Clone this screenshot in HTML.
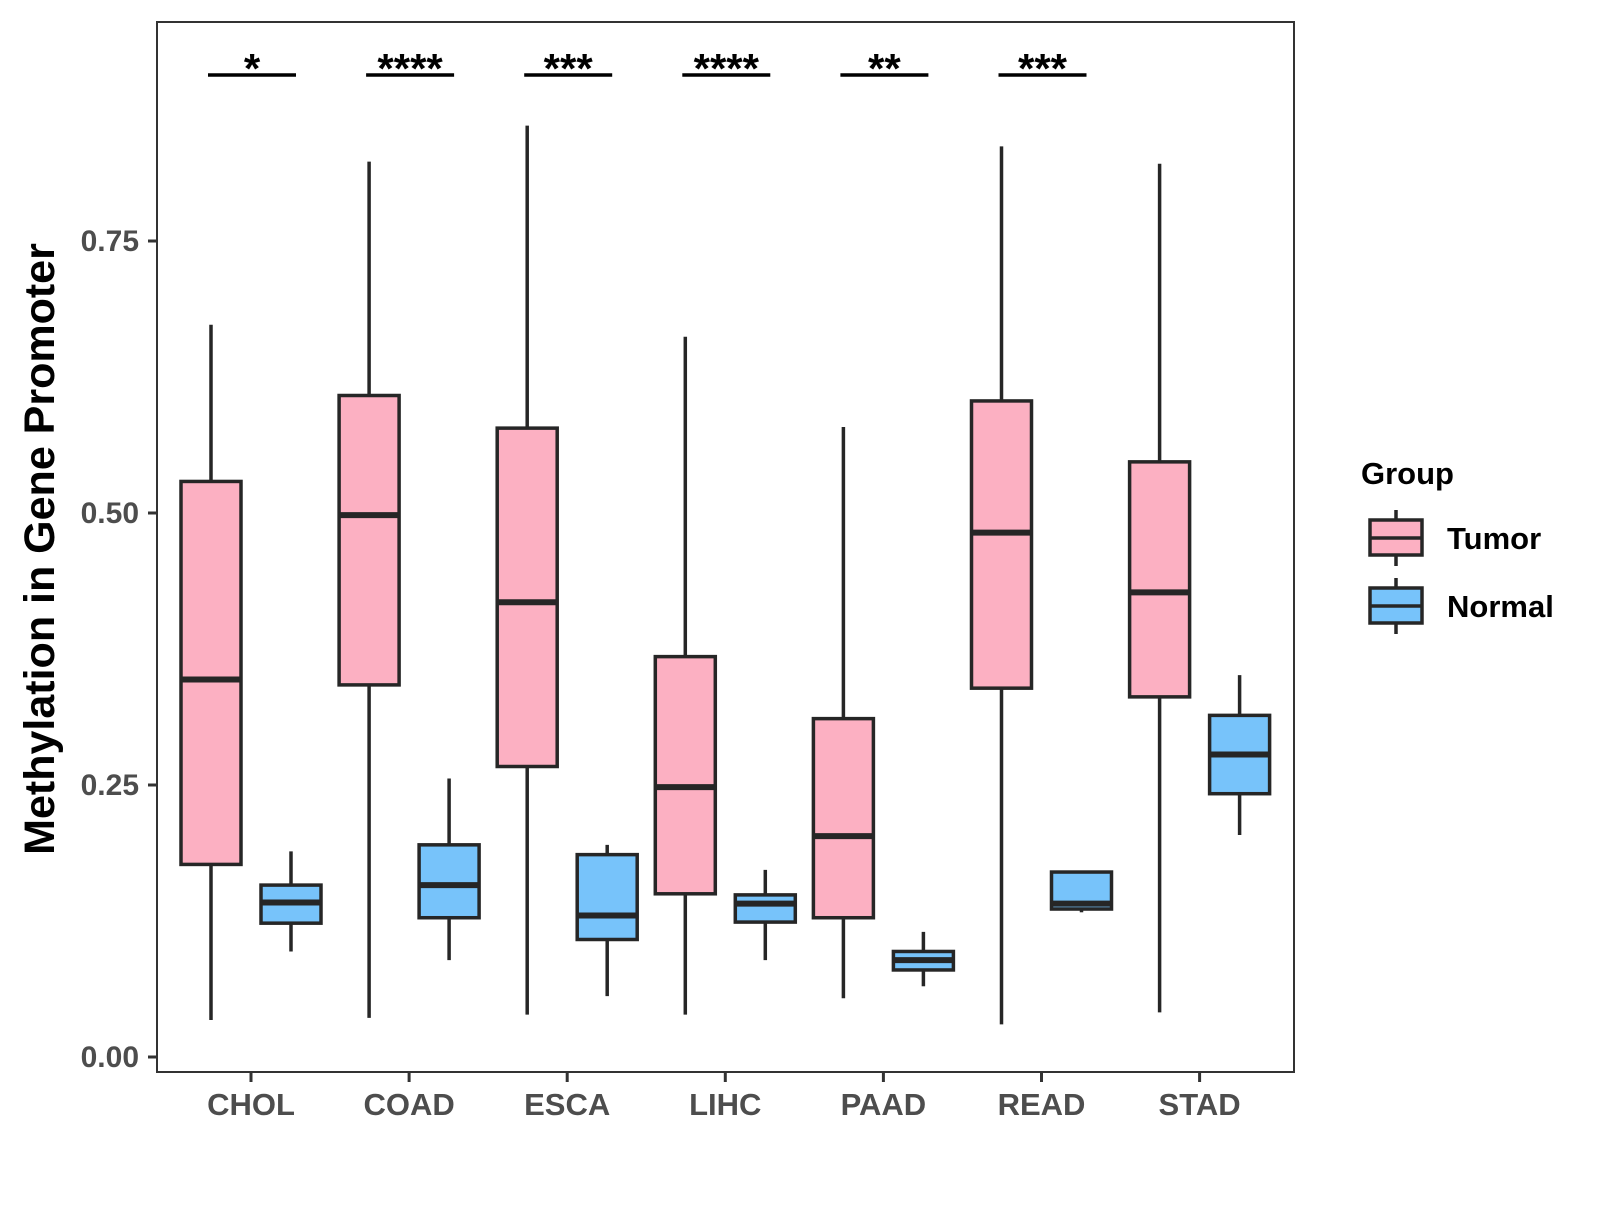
<!DOCTYPE html>
<html><head><meta charset="utf-8"><style>
body{margin:0;background:#fff}
svg text{font-family:"Liberation Sans",Arial,sans-serif;font-weight:bold}
</style></head><body>
<svg id="chart" width="1600" height="1200" viewBox="0 0 1600 1200" xmlns="http://www.w3.org/2000/svg">
<rect x="0" y="0" width="1600" height="1200" fill="#fff"/>
<g id="plot"></g>
</svg>
<script>
const categories=["CHOL","COAD","ESCA","LIHC","PAAD","READ","STAD"];
// [lower whisker, Q1, median, Q3, upper whisker]
const tumorStats=[[0.034,0.177,0.347,0.529,0.673],[0.036,0.342,0.498,0.608,0.823],[0.039,0.267,0.418,0.578,0.856],[0.039,0.150,0.248,0.368,0.662],[0.054,0.128,0.203,0.311,0.579],[0.030,0.339,0.482,0.603,0.837],[0.041,0.331,0.427,0.547,0.821]];
const normalStats=[[0.097,0.123,0.142,0.158,0.189],[0.089,0.128,0.158,0.195,0.256],[0.056,0.108,0.130,0.186,0.195],[0.089,0.124,0.141,0.149,0.172],[0.065,0.080,0.089,0.097,0.115],[0.133,0.136,0.141,0.170,0.170],[0.204,0.242,0.278,0.314,0.351]];
const signif=["*","****","***","****","**","***",""];
const yTicks=[0,0.25,0.5,0.75];
const yTickLabels=["0.00","0.25","0.50","0.75"];

const NS="http://www.w3.org/2000/svg";
const g=document.getElementById('plot');
const L=157,R=1294,T=22,B=1072;
const y=v=>1057-v*1088;
const x=i=>251+i*158.1;
function el(t,a){const e=document.createElementNS(NS,t);for(const k in a)e.setAttribute(k,a[k]);g.appendChild(e);return e;}
let panel=el('rect',{x:L,y:T,width:R-L,height:B-T,fill:'none',stroke:'#333','stroke-width':2});


yTicks.forEach((v,i)=>{
 let t=el('line',{x1:L-9,x2:L,y1:y(v),y2:y(v),stroke:'#333','stroke-width':3});
 
 
 let lb=el('text',{x:L-18,y:y(v)+10,'text-anchor':'end','font-size':30,fill:'#4d4d4d'});
 lb.textContent=yTickLabels[i];
 
 
});
categories.forEach((c,i)=>{
 let t=el('line',{x1:x(i),x2:x(i),y1:B,y2:B+10,stroke:'#333','stroke-width':3});
 
 
 let lb=el('text',{x:x(i),y:1115,'text-anchor':'middle','font-size':31,fill:'#4d4d4d'});
 lb.textContent=c;
 
 
});
function box(cx,s,fill,name){
 const w=60;
 let wk=el('line',{x1:cx,x2:cx,y1:y(s[0]),y2:y(s[4]),stroke:'#262626','stroke-width':3.5});
 
 
 let r=el('rect',{x:cx-w/2,y:y(s[3]),width:w,height:y(s[1])-y(s[3]),fill:fill,stroke:'#262626','stroke-width':3.5});
 
 
 let m=el('line',{x1:cx-w/2,x2:cx+w/2,y1:y(s[2]),y2:y(s[2]),stroke:'#262626','stroke-width':6});
 
 
}
categories.forEach((c,i)=>{
 box(x(i)-40,tumorStats[i],'#fcb0c2','tumor-'+c.toLowerCase());
 box(x(i)+40,normalStats[i],'#77c3fa','normal-'+c.toLowerCase());
 if(signif[i]){
  let ln=el('line',{x1:x(i)-43,x2:x(i)+45,y1:75,y2:75,stroke:'#000','stroke-width':3.5});
  
  
  let st=el('text',{x:x(i)+1,y:83,'text-anchor':'middle','font-size':42,fill:'#000'});
  st.textContent=signif[i];
  
  
 }
});
let yt=el('text',{x:0,y:0,transform:'translate(54,549) rotate(-90)','text-anchor':'middle','font-size':43,fill:'#000'});
yt.textContent='Methylation in Gene Promoter';


let lt=el('text',{x:1361,y:484,'font-size':31,fill:'#000'});
lt.textContent='Group';


[['Tumor','#fcb0c2',520],['Normal','#77c3fa',588]].forEach(([n,f,top])=>{
 let wl=el('line',{x1:1396,x2:1396,y1:top-10,y2:top+46,stroke:'#262626','stroke-width':3.5});
 
 
 let r=el('rect',{x:1370,y:top,width:52,height:35,fill:f,stroke:'#262626','stroke-width':3.5});
 
 
 let ml=el('line',{x1:1370,x2:1422,y1:top+18,y2:top+18,stroke:'#262626','stroke-width':3.5});
 
 
 let t=el('text',{x:1447,y:top+29,'font-size':31,fill:'#000'});
 t.textContent=n;
 
 
});
</script>
</body></html>
